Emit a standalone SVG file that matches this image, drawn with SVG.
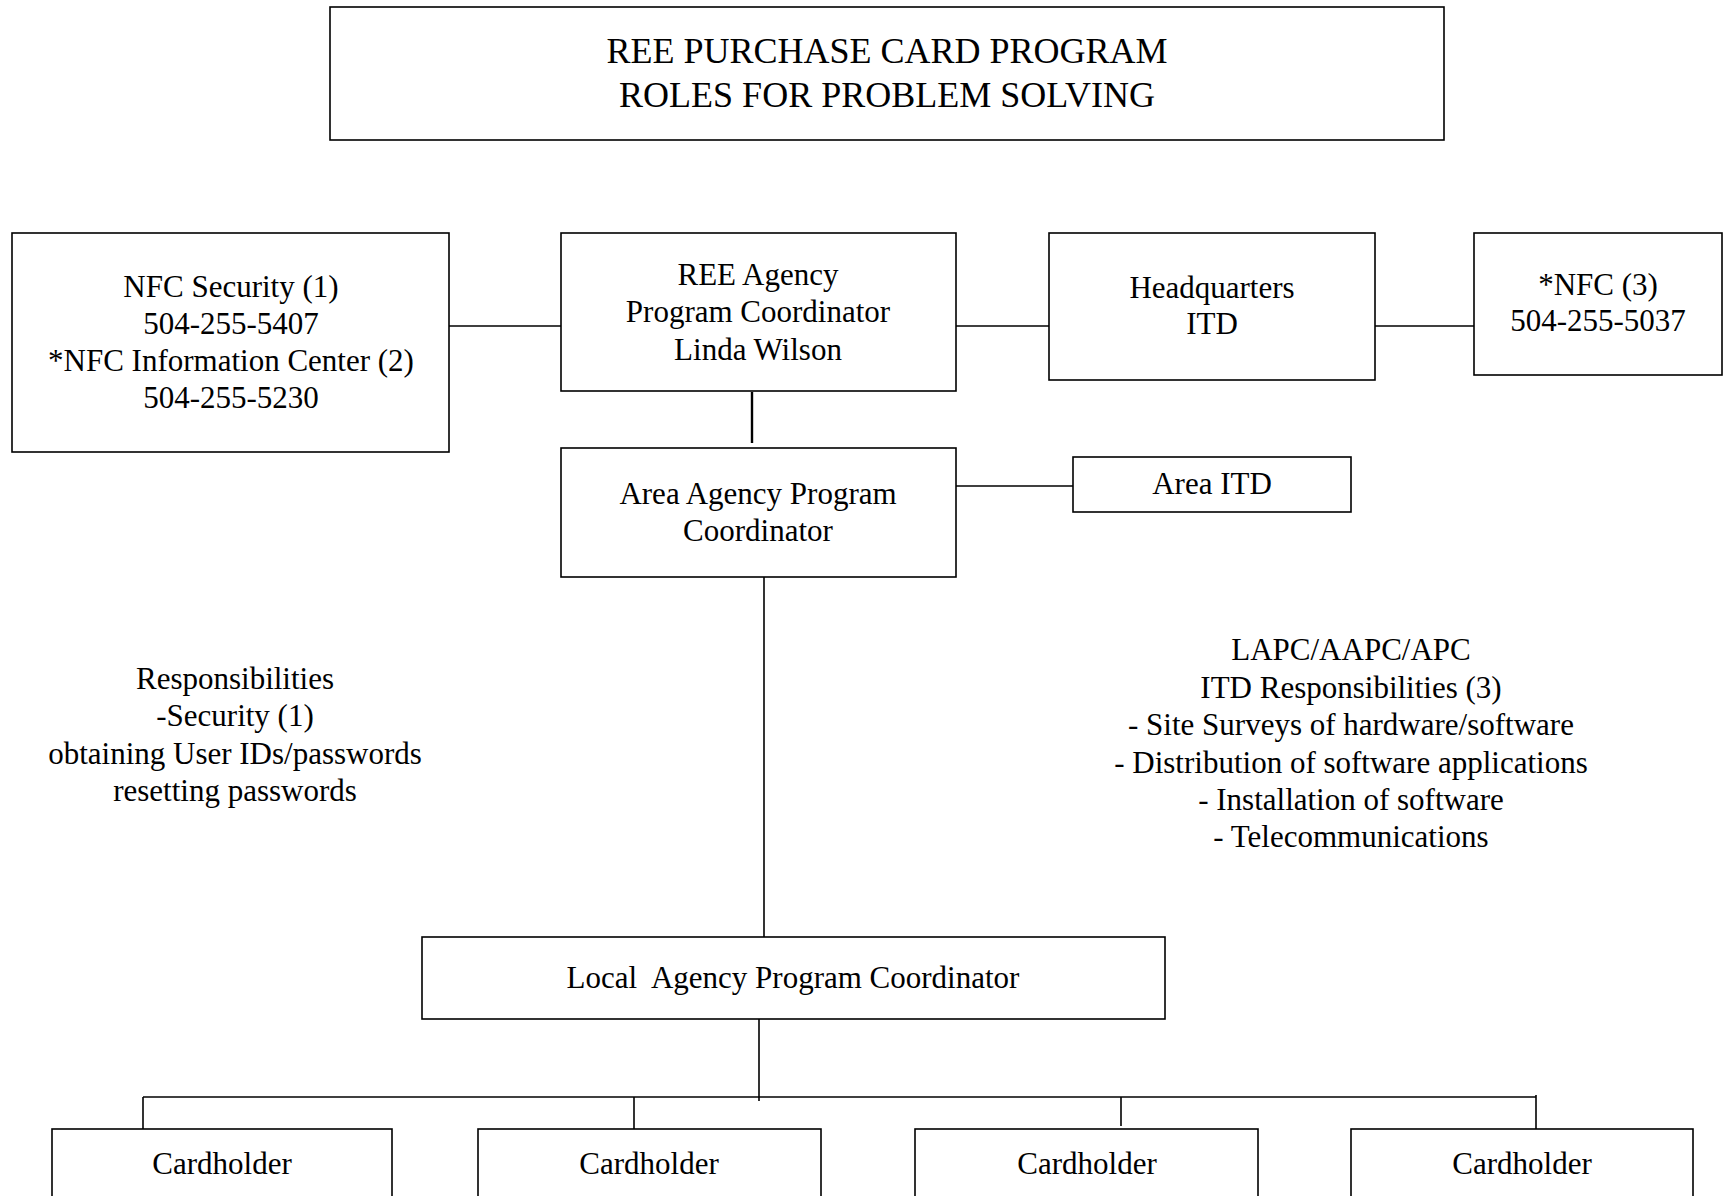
<svg xmlns="http://www.w3.org/2000/svg" width="1723" height="1196" viewBox="0 0 1723 1196">
<style>
  .box { fill: #ffffff; stroke: #000000; stroke-width: 1.6; }
  .ln { fill: none; stroke: #000000; stroke-width: 1.6; }
  text { font-family: "Liberation Serif", "Times New Roman", serif; font-size: 31px; fill: #000000; text-anchor: middle; }
  .title { font-size: 36px; }
</style>
<rect width="1723" height="1196" fill="#ffffff"/>
<g id="title">
  <rect class="box" x="330" y="7" width="1114" height="133"/>
  <text class="title" x="887" y="63">REE PURCHASE CARD PROGRAM</text>
  <text class="title" x="887" y="107">ROLES FOR PROBLEM SOLVING</text>
</g>
<g id="connectors">
  <line class="ln" x1="449" y1="326" x2="561" y2="326"/>
  <line class="ln" x1="956" y1="326" x2="1049" y2="326"/>
  <line class="ln" x1="1375" y1="326" x2="1474" y2="326"/>
  <line class="ln" x1="752" y1="392" x2="752" y2="443" style="stroke-width:2.4"/>
  <line class="ln" x1="956" y1="486" x2="1073" y2="486"/>
  <line class="ln" x1="764" y1="577" x2="764" y2="937"/>
  <line class="ln" x1="759" y1="1019" x2="759" y2="1101"/>
  <line class="ln" x1="143" y1="1097" x2="1536" y2="1097"/>
  <line class="ln" x1="143" y1="1097" x2="143" y2="1129"/>
  <line class="ln" x1="634" y1="1097" x2="634" y2="1129"/>
  <line class="ln" x1="1121" y1="1097" x2="1121" y2="1126"/>
  <line class="ln" x1="1536" y1="1095" x2="1536" y2="1129"/>
</g>
<g id="nfc-security">
  <rect class="box" x="12" y="233" width="437" height="219"/>
  <text x="231" y="297">NFC Security (1)</text>
  <text x="231" y="334">504-255-5407</text>
  <text x="231" y="371">*NFC Information Center (2)</text>
  <text x="231" y="408">504-255-5230</text>
</g>
<g id="ree-agency">
  <rect class="box" x="561" y="233" width="395" height="158"/>
  <text x="758" y="285">REE Agency</text>
  <text x="758" y="322">Program Coordinator</text>
  <text x="758" y="360">Linda Wilson</text>
</g>
<g id="hq-itd">
  <rect class="box" x="1049" y="233" width="326" height="147"/>
  <text x="1212" y="298">Headquarters</text>
  <text x="1212" y="334">ITD</text>
</g>
<g id="nfc3">
  <rect class="box" x="1474" y="233" width="248" height="142"/>
  <text x="1598" y="295">*NFC (3)</text>
  <text x="1598" y="331">504-255-5037</text>
</g>
<g id="area-agency">
  <rect class="box" x="561" y="448" width="395" height="129"/>
  <text x="758" y="504">Area Agency Program</text>
  <text x="758" y="541">Coordinator</text>
</g>
<g id="area-itd">
  <rect class="box" x="1073" y="457" width="278" height="55"/>
  <text x="1212" y="494">Area ITD</text>
</g>
<g id="local-agency">
  <rect class="box" x="422" y="937" width="743" height="82"/>
  <text x="793" y="988" xml:space="preserve">Local  Agency Program Coordinator</text>
</g>
<g id="cardholder-1">
  <rect class="box" x="52" y="1129" width="340" height="90"/>
  <text x="222" y="1174">Cardholder</text>
</g>
<g id="cardholder-2">
  <rect class="box" x="478" y="1129" width="343" height="90"/>
  <text x="649" y="1174">Cardholder</text>
</g>
<g id="cardholder-3">
  <rect class="box" x="915" y="1129" width="343" height="90"/>
  <text x="1087" y="1174">Cardholder</text>
</g>
<g id="cardholder-4">
  <rect class="box" x="1351" y="1129" width="342" height="90"/>
  <text x="1522" y="1174">Cardholder</text>
</g>
<g id="responsibilities-left">
  <text x="235" y="689">Responsibilities</text>
  <text x="235" y="726">-Security (1)</text>
  <text x="235" y="764">obtaining User IDs/passwords</text>
  <text x="235" y="801">resetting passwords</text>
</g>
<g id="responsibilities-right">
  <text x="1351" y="660">LAPC/AAPC/APC</text>
  <text x="1351" y="698">ITD Responsibilities (3)</text>
  <text x="1351" y="735">- Site Surveys of hardware/software</text>
  <text x="1351" y="773">- Distribution of software applications</text>
  <text x="1351" y="810">- Installation of software</text>
  <text x="1351" y="847">- Telecommunications</text>
</g>
</svg>
